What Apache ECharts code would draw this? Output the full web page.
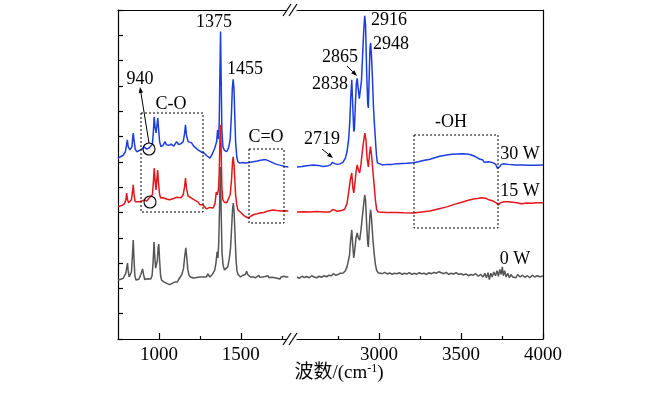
<!DOCTYPE html>
<html>
<head>
<meta charset="utf-8">
<script src="https://cdn.jsdelivr.net/npm/echarts@6/dist/echarts.min.js"></script>
<style>html,body{margin:0;padding:0;background:#fff;}#chart{width:661px;height:393px;}</style>
</head>
<body>
<div id="chart"></div>
<script>
// ---- Data (wavenumber cm^-1, offset intensity a.u.) ----
const leftRange = [750, 1800];
const rightRange = [2500, 4000];
const leftMajorTicks = [1000, 1500];
const leftMinorTicks = [1250, 1750];
const rightMajorTicks = [3000, 3500, 4000];
const rightMinorTicks = [2750, 3250, 3750];
const seriesNames = ['30 W', '15 W', '0 W'];

const w30Left = [[750,7.15],[765,7.2],[780,7.25],[795,7.4],[803,7.7],[807,7.87],[812,7.6],[823,7.47],[835,7.6],[840,7.95],[843,8.14],[847,7.9],[855,7.5],[864,7.4],[880,7.45],[895,7.5],[910,7.6],[915,7.62],[925,7.5],[940,7.55],[950,7.55],[960,7.7],[966,8.2],[971,8.78],[976,8.4],[982,8.14],[987,8.4],[993,8.73],[998,8.3],[1004,7.8],[1012,7.6],[1025,7.65],[1037,7.8],[1045,7.68],[1060,7.65],[1075,7.7],[1090,7.62],[1108,7.8],[1120,7.68],[1135,7.72],[1148,7.8],[1156,8.1],[1162,8.46],[1168,8.05],[1178,7.8],[1190,7.78],[1199,7.75],[1212,7.62],[1225,7.55],[1238,7.47],[1250,7.45],[1262,7.38],[1275,7.35],[1290,7.25],[1300,7.3],[1311,7.15],[1325,7.3],[1341,7.55],[1352,7.8],[1358,8.26],[1364,7.9],[1368,8.6],[1372,10.5],[1376,12.15],[1380,10.2],[1384,8.3],[1390,7.6],[1400,7.45],[1413,7.4],[1425,7.55],[1435,7.9],[1442,8.8],[1448,9.9],[1453,10.26],[1458,9.9],[1463,8.8],[1468,7.8],[1475,7.2],[1482,7.0],[1495,6.95],[1510,6.97],[1530,6.95],[1550,6.97],[1575,7.0],[1600,7.03],[1620,7.06],[1640,7.08],[1655,7.08],[1670,7.04],[1690,6.98],[1710,6.92],[1730,6.88],[1750,6.85],[1770,6.82],[1790,6.8]];
const w30Right = [[2500,6.8],[2530,6.82],[2560,6.85],[2600,6.88],[2630,6.86],[2660,6.82],[2690,6.85],[2705,6.88],[2715,6.98],[2722,7.0],[2730,6.93],[2745,6.9],[2762,6.92],[2780,6.98],[2795,7.15],[2805,7.4],[2815,7.9],[2822,8.6],[2828,9.6],[2834,10.24],[2840,9.2],[2846,8.2],[2850,8.3],[2856,9.3],[2862,10.1],[2867,10.3],[2873,9.9],[2880,9.5],[2886,9.48],[2893,10.2],[2900,11.2],[2907,12.2],[2913,12.77],[2918,12.4],[2925,10.5],[2931,9.3],[2935,9.13],[2940,10.3],[2945,11.5],[2949,11.7],[2954,11.2],[2960,10.3],[2966,9.2],[2972,8.5],[2978,7.9],[2984,7.3],[2990,6.96],[3000,6.9],[3020,6.88],[3050,6.9],[3080,6.9],[3110,6.92],[3140,6.93],[3170,6.94],[3209,6.96],[3240,7.0],[3270,7.05],[3311,7.1],[3340,7.16],[3370,7.22],[3413,7.27],[3445,7.3],[3474,7.31],[3505,7.32],[3535,7.31],[3560,7.28],[3590,7.2],[3616,7.1],[3632,7.08],[3642,6.98],[3652,7.05],[3670,7.0],[3697,6.96],[3712,6.9],[3722,6.75],[3727,6.72],[3735,6.8],[3745,6.9],[3758,6.92],[3790,6.9],[3830,6.88],[3870,6.88],[3910,6.87],[3950,6.87],[4000,6.88]];

const w15Left = [[750,5.22],[762,5.25],[775,5.28],[790,5.35],[798,5.5],[803,5.77],[808,5.5],[815,5.38],[823,5.4],[832,5.5],[838,5.8],[843,6.09],[848,5.7],[855,5.42],[864,5.38],[880,5.42],[895,5.45],[910,5.5],[915,5.52],[925,5.45],[940,5.57],[952,5.55],[960,5.7],[966,6.2],[971,6.75],[976,6.3],[982,5.89],[987,6.3],[992,6.68],[997,6.2],[1003,5.75],[1010,5.57],[1025,5.58],[1037,5.6],[1050,5.52],[1065,5.5],[1077,5.5],[1090,5.55],[1108,5.6],[1120,5.55],[1135,5.58],[1148,5.7],[1156,6.0],[1162,6.36],[1168,5.95],[1178,5.65],[1190,5.6],[1199,5.57],[1215,5.5],[1238,5.42],[1250,5.3],[1268,5.3],[1291,5.14],[1310,5.2],[1331,5.18],[1342,5.35],[1350,5.81],[1356,5.7],[1363,5.9],[1368,6.6],[1372,7.8],[1376,8.46],[1380,7.4],[1384,6.0],[1390,5.5],[1400,5.4],[1413,5.38],[1425,5.45],[1435,5.7],[1443,6.3],[1449,7.0],[1453,7.2],[1458,6.9],[1463,6.3],[1468,5.7],[1475,5.3],[1482,5.1],[1500,5.0],[1514,4.9],[1530,4.83],[1545,4.78],[1560,4.85],[1580,4.92],[1600,4.95],[1616,4.98],[1640,5.0],[1660,5.05],[1680,5.08],[1697,5.1],[1720,5.08],[1745,5.06],[1770,5.07],[1790,5.06]];
const w15Right = [[2500,5.02],[2540,5.03],[2580,5.02],[2620,5.04],[2660,5.02],[2700,5.02],[2712,5.06],[2720,5.12],[2728,5.08],[2745,5.05],[2770,5.08],[2790,5.12],[2805,5.35],[2815,5.8],[2825,6.3],[2834,6.56],[2840,6.0],[2846,5.77],[2852,6.1],[2860,6.6],[2867,6.88],[2874,6.7],[2882,6.56],[2890,6.9],[2900,7.5],[2908,7.9],[2914,8.14],[2920,7.9],[2928,7.1],[2935,6.8],[2942,7.3],[2948,7.6],[2954,7.3],[2962,6.7],[2970,6.1],[2978,5.5],[2986,5.1],[2995,5.02],[3006,5.02],[3050,5.0],[3100,5.0],[3150,4.99],[3209,4.98],[3260,5.02],[3311,5.06],[3360,5.14],[3413,5.22],[3460,5.32],[3515,5.42],[3545,5.48],[3576,5.53],[3600,5.55],[3622,5.58],[3637,5.57],[3655,5.55],[3670,5.5],[3697,5.45],[3715,5.38],[3727,5.3],[3740,5.38],[3760,5.42],[3789,5.42],[3800,5.36],[3815,5.4],[3840,5.38],[3870,5.34],[3900,5.37],[3930,5.36],[3960,5.38],[4000,5.38]];

const w0Left = [[750,2.33],[758,2.28],[766,2.36],[774,2.3],[782,2.4],[790,2.42],[798,2.6],[804,2.85],[808,3.0],[812,2.7],[818,2.45],[825,2.5],[832,2.65],[838,3.3],[843,3.91],[848,3.1],[853,2.5],[860,2.33],[868,2.4],[876,2.36],[884,2.45],[892,2.6],[900,2.77],[906,2.55],[913,2.35],[920,2.3],[930,2.38],[940,2.32],[950,2.37],[958,2.5],[964,3.0],[970,3.83],[975,3.2],[980,2.8],[985,2.73],[990,3.1],[995,3.6],[999,3.75],[1004,3.1],[1010,2.5],[1016,2.33],[1024,2.38],[1032,2.25],[1040,2.3],[1048,2.2],[1056,2.25],[1064,2.15],[1072,2.12],[1080,2.2],[1088,2.15],[1096,2.25],[1104,2.3],[1112,2.25],[1120,2.35],[1130,2.45],[1140,2.55],[1150,2.8],[1158,3.3],[1164,3.6],[1170,3.2],[1176,2.75],[1183,2.53],[1192,2.45],[1200,2.42],[1210,2.41],[1220,2.48],[1230,2.43],[1240,2.47],[1250,2.45],[1260,2.4],[1270,2.45],[1280,2.38],[1290,2.45],[1298,2.58],[1303,2.61],[1310,2.45],[1318,2.48],[1326,2.55],[1334,2.6],[1341,2.73],[1348,3.0],[1355,3.44],[1360,3.2],[1365,3.8],[1370,5.2],[1375,6.8],[1380,5.0],[1385,3.4],[1392,2.9],[1400,2.73],[1410,2.75],[1420,2.85],[1430,3.2],[1437,3.6],[1443,4.3],[1449,5.1],[1454,5.37],[1459,5.0],[1464,4.2],[1470,3.2],[1476,2.7],[1483,2.55],[1490,2.5],[1498,2.45],[1505,2.45],[1512,2.52],[1520,2.47],[1527,2.55],[1535,2.68],[1542,2.55],[1550,2.5],[1558,2.45],[1566,2.52],[1575,2.45],[1583,2.5],[1591,2.42],[1600,2.47],[1608,2.52],[1616,2.44],[1624,2.5],[1632,2.45],[1640,2.52],[1648,2.47],[1657,2.45],[1665,2.5],[1673,2.42],[1681,2.48],[1690,2.44],[1698,2.5],[1706,2.42],[1714,2.46],[1722,2.4],[1730,2.44],[1738,2.37],[1746,2.45],[1754,2.4],[1762,2.48],[1770,2.42],[1780,2.45],[1790,2.46]];
const w0Right = [[2500,2.45],[2515,2.4],[2530,2.48],[2545,2.43],[2560,2.47],[2575,2.42],[2590,2.5],[2605,2.45],[2620,2.42],[2635,2.48],[2650,2.44],[2665,2.5],[2680,2.46],[2695,2.52],[2710,2.5],[2722,2.58],[2735,2.52],[2750,2.55],[2765,2.6],[2782,2.61],[2795,2.7],[2805,2.85],[2813,2.92],[2820,3.3],[2827,3.9],[2834,4.31],[2840,3.7],[2846,3.2],[2852,3.5],[2860,4.0],[2867,4.19],[2874,4.0],[2882,3.91],[2890,4.3],[2898,4.8],[2906,5.3],[2913,5.69],[2918,5.5],[2925,4.5],[2931,3.8],[2935,3.64],[2940,4.3],[2945,4.9],[2949,5.1],[2954,4.8],[2962,4.0],[2970,3.4],[2978,2.95],[2986,2.7],[2995,2.62],[3005,2.61],[3020,2.58],[3035,2.63],[3050,2.57],[3065,2.61],[3080,2.56],[3095,2.6],[3110,2.58],[3125,2.62],[3140,2.55],[3155,2.6],[3170,2.57],[3185,2.62],[3200,2.55],[3215,2.6],[3230,2.56],[3245,2.62],[3260,2.58],[3275,2.6],[3290,2.55],[3305,2.62],[3320,2.58],[3335,2.63],[3350,2.6],[3365,2.66],[3380,2.62],[3395,2.58],[3410,2.63],[3425,2.55],[3440,2.6],[3455,2.57],[3470,2.62],[3485,2.55],[3500,2.58],[3515,2.53],[3530,2.57],[3545,2.5],[3560,2.55],[3575,2.52],[3590,2.58],[3605,2.48],[3620,2.55],[3635,2.45],[3645,2.6],[3655,2.42],[3665,2.62],[3673,2.35],[3682,2.6],[3690,2.45],[3700,2.65],[3710,2.5],[3720,2.7],[3728,2.48],[3737,2.75],[3745,2.55],[3752,2.85],[3758,2.5],[3766,2.7],[3775,2.45],[3785,2.6],[3795,2.42],[3805,2.55],[3815,2.45],[3825,2.52],[3835,2.42],[3845,2.55],[3860,2.45],[3875,2.52],[3890,2.44],[3905,2.5],[3920,2.42],[3935,2.52],[3950,2.45],[3965,2.5],[3980,2.46],[4000,2.49]];

// ---- Styling ----
const SERIF = '"Liberation Serif", "Times New Roman", "Noto Sans CJK SC", serif';
const COLORS = { w30: '#1c3ee0', w15: '#e5161b', w0: '#555555' };
const AX = { color: '#000', width: 1.2 };

function mainX(grid, range, majors) {
  return { gridIndex: grid, type: 'value', min: range[0], max: range[1], position: 'bottom',
    axisLine: { lineStyle: AX },
    axisTick: { inside: true, length: 6, customValues: majors, lineStyle: AX },
    axisLabel: { customValues: majors, formatter: (v) => String(v), fontFamily: SERIF, fontSize: 19, color: '#000', margin: 7 },
    splitLine: { show: false } };
}
function minorX(grid, range, minors) {
  return { gridIndex: grid, type: 'value', min: range[0], max: range[1], position: 'bottom',
    axisLine: { show: false },
    axisTick: { inside: true, length: 3, customValues: minors, lineStyle: AX },
    axisLabel: { show: false }, splitLine: { show: false } };
}
function topX(grid, range) {
  return { gridIndex: grid, type: 'value', min: range[0], max: range[1], position: 'top',
    axisLine: { lineStyle: AX }, axisTick: { show: false }, axisLabel: { show: false }, splitLine: { show: false } };
}
function line(name, data, xi, yi, color, z) {
  return { name, type: 'line', data, xAxisIndex: xi, yAxisIndex: yi, showSymbol: false, symbol: 'none',
    z, lineStyle: { color, width: 1.5 }, itemStyle: { color }, animation: false };
}

const txt = (s, x, y, extra) => Object.assign({ type: 'text', x, y, z: 100,
  style: { text: s, font: '18px ' + SERIF, fill: '#000', align: 'center', verticalAlign: 'middle' } }, extra || {});
const box = (x, y, w, h) => ({ type: 'rect', z: 90, shape: { x, y, width: w, height: h },
  style: { fill: 'none', stroke: '#000', lineWidth: 1, lineDash: [2, 2] } });
const circ = (cx, cy) => ({ type: 'circle', z: 95, shape: { cx, cy, r: 6 }, style: { fill: 'none', stroke: '#000', lineWidth: 1.1 } });
function arrow(x1, y1, x2, y2) {
  const dx = x2 - x1, dy = y2 - y1, L = Math.hypot(dx, dy), ux = dx / L, uy = dy / L;
  const bx = x2 - ux * 6, by = y2 - uy * 6, px = -uy * 2.2, py = ux * 2.2;
  return [
    { type: 'line', z: 95, shape: { x1, y1, x2: bx, y2: by }, style: { stroke: '#000', lineWidth: 1 } },
    { type: 'polygon', z: 95, shape: { points: [[x2, y2], [bx + px, by + py], [bx - px, by - py]] }, style: { fill: '#000' } }
  ];
}
const brk = (y) => [
  { type: 'rect', z: 96, shape: { x: 287, y: y - 3, width: 9, height: 6 }, style: { fill: '#fff' } },
  { type: 'line', z: 97, shape: { x1: 283, y1: y + 6, x2: 291, y2: y - 6 }, style: { stroke: '#000', lineWidth: 1.2 } },
  { type: 'line', z: 97, shape: { x1: 289, y1: y + 6, x2: 297, y2: y - 6 }, style: { stroke: '#000', lineWidth: 1.2 } }
];

const chart = echarts.init(document.getElementById('chart'), null, { renderer: 'canvas' });
chart.setOption({
  animation: false,
  backgroundColor: '#fff',
  grid: [
    { left: 118, top: 10, width: 172, height: 329 },
    { left: 297, top: 10, width: 246, height: 329 }
  ],
  xAxis: [
    mainX(0, leftRange, leftMajorTicks), minorX(0, leftRange, leftMinorTicks), topX(0, leftRange),
    mainX(1, rightRange, rightMajorTicks), minorX(1, rightRange, rightMinorTicks), topX(1, rightRange)
  ],
  yAxis: [
    { gridIndex: 0, type: 'value', min: 0, max: 13, interval: 1, position: 'left',
      axisLine: { lineStyle: AX }, axisTick: { inside: true, length: 5, lineStyle: AX },
      axisLabel: { show: false }, splitLine: { show: false } },
    { gridIndex: 1, type: 'value', min: 0, max: 13, interval: 1, position: 'right',
      axisLine: { lineStyle: AX }, axisTick: { show: false }, axisLabel: { show: false }, splitLine: { show: false } }
  ],
  series: [
    line(seriesNames[2], w0Left, 0, 0, COLORS.w0, 2),
    line(seriesNames[0], w30Left, 0, 0, COLORS.w30, 3),
    line(seriesNames[1], w15Left, 0, 0, COLORS.w15, 4),
    line(seriesNames[2], w0Right, 3, 1, COLORS.w0, 2),
    line(seriesNames[0], w30Right, 3, 1, COLORS.w30, 3),
    line(seriesNames[1], w15Right, 3, 1, COLORS.w15, 4)
  ],
  graphic: [].concat(
    brk(10), brk(339),
    [
      txt('1375', 214, 22), txt('1455', 245, 69), txt('940', 140, 79), txt('C-O', 171, 104), txt('C=O', 266, 137),
      txt('2916', 389, 20), txt('2948', 391, 44), txt('2865', 340, 57), txt('2838', 330, 84), txt('2719', 322, 139),
      txt('-OH', 451, 122),
      txt(seriesNames[0], 520, 154), txt(seriesNames[1], 520, 191), txt(seriesNames[2], 515, 259),
      box(141, 113, 62, 99), box(249, 149, 35, 74), box(414, 135, 84, 93),
      circ(149, 149), circ(150, 202),
      { type: 'text', x: 339, y: 373, z: 100, style: {
          text: '{a|波数/(cm}{s|-1}{a|)}', align: 'center', verticalAlign: 'middle',
          rich: { a: { font: '19px ' + SERIF, fill: '#000' },
                  s: { font: '12px ' + SERIF, fill: '#000', padding: [0, 0, 9, 0] } } } }
    ],
    arrow(149, 143, 140, 87), arrow(347, 66, 357, 76), arrow(322, 149, 333, 158)
  )
});
</script>
</body>
</html>
